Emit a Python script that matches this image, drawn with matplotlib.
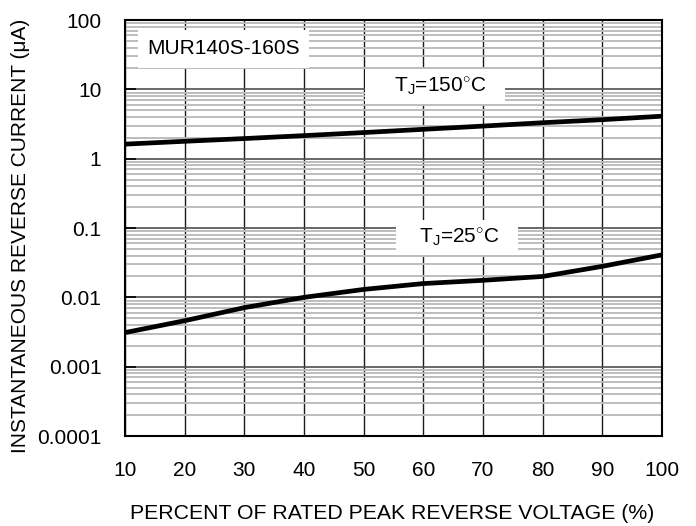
import matplotlib
matplotlib.use("Agg")
from matplotlib import pyplot as plt
from matplotlib.ticker import FixedLocator, LogLocator, NullFormatter

plt.rcParams['font.family'] = ['Liberation Sans', 'DejaVu Sans']
plt.rcParams['mathtext.fontset'] = 'custom'
plt.rcParams['mathtext.rm'] = 'Liberation Sans'
plt.rcParams['mathtext.it'] = 'Liberation Sans'

# percent of rated peak reverse voltage
pct = [10, 20, 30, 40, 50, 60, 70, 80, 90, 100]
# reverse current (uA)
ir_150 = [1.62, 1.78, 1.95, 2.15, 2.38, 2.65, 2.95, 3.3, 3.65, 4.1]
ir_25 = [0.0031, 0.0046, 0.0071, 0.0100, 0.0130, 0.0158, 0.0176, 0.0200, 0.0280, 0.041]

yticks = [0.0001, 0.001, 0.01, 0.1, 1, 10, 100]
ylabels = ['0.0001', '0.001', '0.01', '0.1', '1', '10', '100']

FS = 15

fig = plt.figure(figsize=(6.96, 5.26), dpi=100)
ax = fig.add_axes([125/696, 1-436/526, 537/696, 416/526])

ax.set_yscale('log')
ax.set_xlim(10, 100)
ax.set_ylim(0.0001, 100)

ax.yaxis.set_major_locator(FixedLocator(yticks))
ax.set_yticklabels(ylabels)
ax.yaxis.set_minor_locator(LogLocator(base=10, subs=range(2, 10), numticks=20))
ax.yaxis.set_minor_formatter(NullFormatter())
ax.set_xticks(pct)

ax.grid(True, which='minor', axis='y', color='#bdbdbd', lw=1.4)
ax.grid(True, which='major', axis='y', color='#505050', lw=1.2)
ax.grid(True, which='major', axis='x', color='#1a1a1a', lw=1.0)
ax.set_axisbelow(True)

ax.tick_params(axis='y', which='major', direction='in', length=8, width=1.2,
               labelsize=FS, pad=17)
ax.tick_params(axis='y', which='minor', length=0)
ax.tick_params(axis='x', which='major', length=0, labelsize=FS, pad=18)

for s in ax.spines.values():
    s.set_linewidth(1.5)

ax.plot(pct, ir_150, color='black', lw=3.4, solid_capstyle='round')
ax.plot(pct, ir_25, color='black', lw=3.4, solid_capstyle='round')

ax.text(13.7, 38.5, 'MUR140S-160S', fontsize=FS, ha='left', va='center',
        bbox=dict(boxstyle='square,pad=0.45', fc='white', ec='none'))
box = dict(boxstyle='square,pad=0.3', fc='white', ec='none')
ax.text(51.3, 10.9, r'    T$_{\rm J}$=150$^{\circ}$C   ', fontsize=FS, ha='left',
        va='center', bbox=box)
ax.text(56.4, 0.072, r'   T$_{\rm J}$=25$^{\circ}$C   ', fontsize=FS, ha='left',
        va='center', bbox=box)

ax.set_xlabel('PERCENT OF RATED PEAK REVERSE VOLTAGE (%)', fontsize=15.3)
ax.set_ylabel('INSTANTANEOUS REVERSE CURRENT (μA)', fontsize=FS)
ax.xaxis.set_label_coords(0.498, -0.163)
ax.yaxis.set_label_coords(-0.1955, 0.48)
ax.yaxis.label.set_va('center')

fig.savefig('out.png', dpi=100)
